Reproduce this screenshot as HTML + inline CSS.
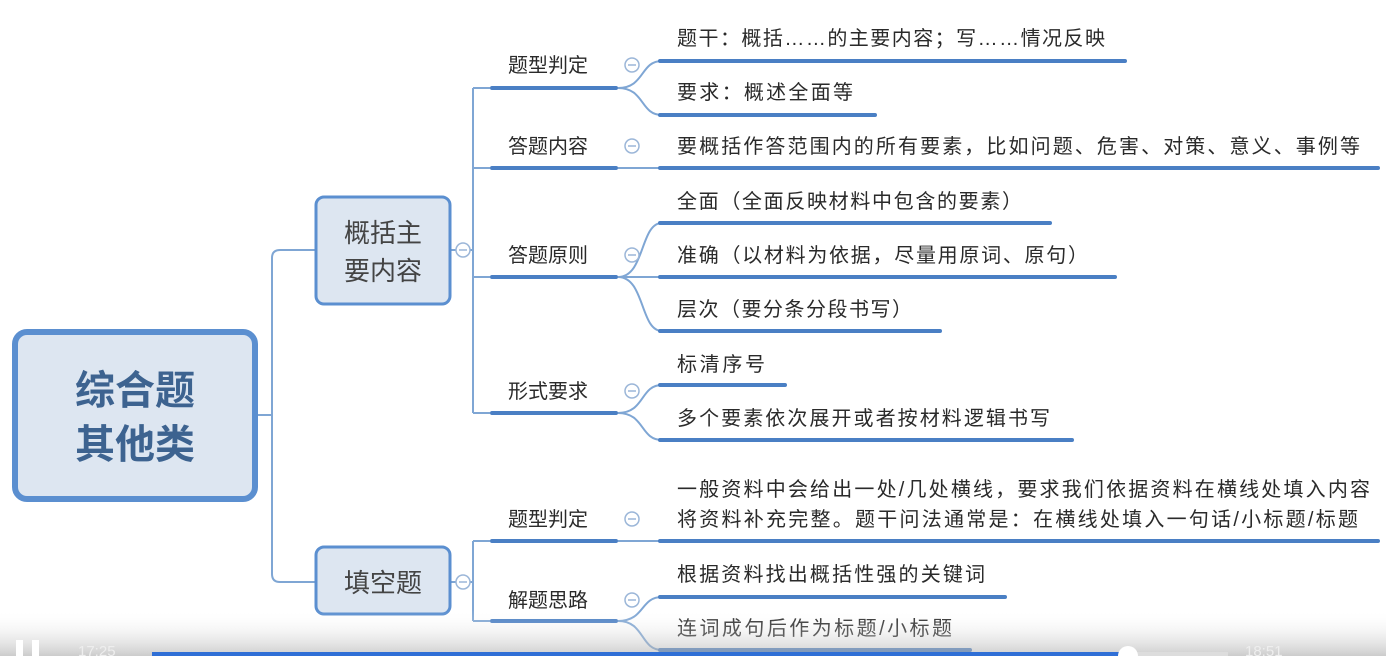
<!DOCTYPE html>
<html><head><meta charset="utf-8"><style>
body{margin:0;width:1386px;height:656px;overflow:hidden;background:#fff}
svg text{font-family:"Liberation Sans","Noto Sans CJK SC",sans-serif;fill:#2a2a2a}
</style></head><body>
<svg width="1386" height="656" viewBox="0 0 1386 656" xmlns="http://www.w3.org/2000/svg">
<defs><linearGradient id="g" x1="0" y1="0" x2="0" y2="1"><stop offset="0" stop-color="#fff" stop-opacity="0"/><stop offset="1" stop-color="#aaa" stop-opacity="0.6"/></linearGradient></defs>
<g fill="none" stroke="#7fa6d4" stroke-width="2">
<path d="M257,415 H272 M280,250 H315 M280,582 H315 M272,258 Q272,250 280,250 M272,574 Q272,582 280,582 M272,258 V574"/>
<path d="M451,250 H473 M473,88 V413 M473,88 H490 M473,168 H490 M473,277 H490 M473,413 H490"/>
<path d="M451,582 H473 M473,541 V621 M473,541 H490 M473,621 H490"/>
<path d="M618,88 C645,88 640,61 662,61 M618,88 C645,88 640,115 662,115"/>
<path d="M618,168 H662"/>
<path d="M618,277 C645,277 640,223 662,223 M618,277 H662 M618,277 C645,277 640,331 662,331"/>
<path d="M618,413 C645,413 640,385 662,385 M618,413 C645,413 640,440 662,440"/>
<path d="M618,541 H662"/>
<path d="M618,621 C645,621 640,597 662,597 M618,621 C645,621 640,650 662,650"/>
</g>
<g stroke="#4a7fc4" stroke-width="4" stroke-linecap="round">
<line x1="492" y1="88" x2="616" y2="88"/><line x1="492" y1="168" x2="616" y2="168"/>
<line x1="492" y1="277" x2="616" y2="277"/><line x1="492" y1="413" x2="616" y2="413"/>
<line x1="492" y1="541" x2="616" y2="541"/><line x1="492" y1="621" x2="616" y2="621"/>
<line x1="660" y1="61" x2="1125" y2="61"/><line x1="660" y1="115" x2="875" y2="115"/>
<line x1="660" y1="168" x2="1378" y2="168"/>
<line x1="660" y1="223" x2="1050" y2="223"/><line x1="660" y1="277" x2="1115" y2="277"/><line x1="660" y1="331" x2="940" y2="331"/>
<line x1="660" y1="385" x2="785" y2="385"/><line x1="660" y1="440" x2="1072" y2="440"/>
<line x1="660" y1="541" x2="1378" y2="541"/>
<line x1="660" y1="597" x2="1005" y2="597"/><line x1="660" y1="650" x2="970" y2="650"/>
</g>
<g fill="#fff" stroke="#9bb6d8" stroke-width="1.5">
<circle cx="463" cy="250" r="7"/><circle cx="463" cy="582" r="7"/>
<circle cx="632" cy="65" r="7"/><circle cx="632" cy="146" r="7"/><circle cx="632" cy="255" r="7"/><circle cx="632" cy="391" r="7"/><circle cx="632" cy="519" r="7"/><circle cx="632" cy="600" r="7"/>
</g>
<g stroke="#9bb6d8" stroke-width="1.5">
<line x1="459" y1="250" x2="467" y2="250"/><line x1="459" y1="582" x2="467" y2="582"/>
<line x1="628" y1="65" x2="636" y2="65"/><line x1="628" y1="146" x2="636" y2="146"/><line x1="628" y1="255" x2="636" y2="255"/><line x1="628" y1="391" x2="636" y2="391"/><line x1="628" y1="519" x2="636" y2="519"/><line x1="628" y1="600" x2="636" y2="600"/>
</g>
<rect x="15" y="332" width="240" height="167" rx="12" fill="#dde6f1" stroke="#5b8fd0" stroke-width="6"/>
<text x="135" y="404" font-size="40" font-weight="bold" text-anchor="middle" style="fill:#3d6390">综合题</text>
<text x="135" y="458" font-size="40" font-weight="bold" text-anchor="middle" style="fill:#3d6390">其他类</text>
<rect x="316" y="197" width="134" height="107" rx="8" fill="#dde6f1" stroke="#5b8fd0" stroke-width="3"/>
<text x="383" y="242" font-size="26" text-anchor="middle" style="fill:#444">概括主</text>
<text x="383" y="280" font-size="26" text-anchor="middle" style="fill:#444">要内容</text>
<rect x="316" y="547" width="134" height="67" rx="8" fill="#dde6f1" stroke="#5b8fd0" stroke-width="3"/>
<text x="383" y="592" font-size="26" text-anchor="middle" style="fill:#444">填空题</text>
<g font-size="20">
<text x="508" y="72">题型判定</text><text x="508" y="153">答题内容</text><text x="508" y="262">答题原则</text><text x="508" y="398">形式要求</text>
<text x="508" y="526">题型判定</text><text x="508" y="607">解题思路</text>
<text x="677" y="45" textLength="428" lengthAdjust="spacing">题干：概括……的主要内容；写……情况反映</text>
<text x="677" y="99" textLength="176" lengthAdjust="spacing">要求：概述全面等</text>
<text x="677" y="153" textLength="683" lengthAdjust="spacing">要概括作答范围内的所有要素，比如问题、危害、对策、意义、事例等</text>
<text x="677" y="208" textLength="345" lengthAdjust="spacing">全面（全面反映材料中包含的要素）</text>
<text x="677" y="262" textLength="411" lengthAdjust="spacing">准确（以材料为依据，尽量用原词、原句）</text>
<text x="677" y="316" textLength="235" lengthAdjust="spacing">层次（要分条分段书写）</text>
<text x="677" y="371" textLength="88" lengthAdjust="spacing">标清序号</text>
<text x="677" y="425" textLength="373" lengthAdjust="spacing">多个要素依次展开或者按材料逻辑书写</text>
<text x="677" y="496" textLength="693" lengthAdjust="spacing">一般资料中会给出一处/几处横线，要求我们依据资料在横线处填入内容</text>
<text x="677" y="526" textLength="681" lengthAdjust="spacing">将资料补充完整。题干问法通常是：在横线处填入一句话/小标题/标题</text>
<text x="677" y="581" textLength="308" lengthAdjust="spacing">根据资料找出概括性强的关键词</text>
<text x="677" y="635" textLength="275" lengthAdjust="spacing">连词成句后作为标题/小标题</text>
</g>
<rect x="0" y="610" width="1386" height="46" fill="url(#g)"/>
<rect x="16" y="640" width="7" height="16" fill="#fff"/><rect x="32" y="640" width="7" height="16" fill="#fff"/>
<text x="78" y="656" font-size="15" style="fill:#eee">17:25</text>
<rect x="152" y="652" width="976" height="4" fill="#2f6fd6"/>
<rect x="1128" y="652" width="100" height="4" fill="#ddd"/>
<circle cx="1128" cy="656" r="10" fill="#fff"/>
<text x="1245" y="656" font-size="15" style="fill:#eee">18:51</text>
</svg>
</body></html>
